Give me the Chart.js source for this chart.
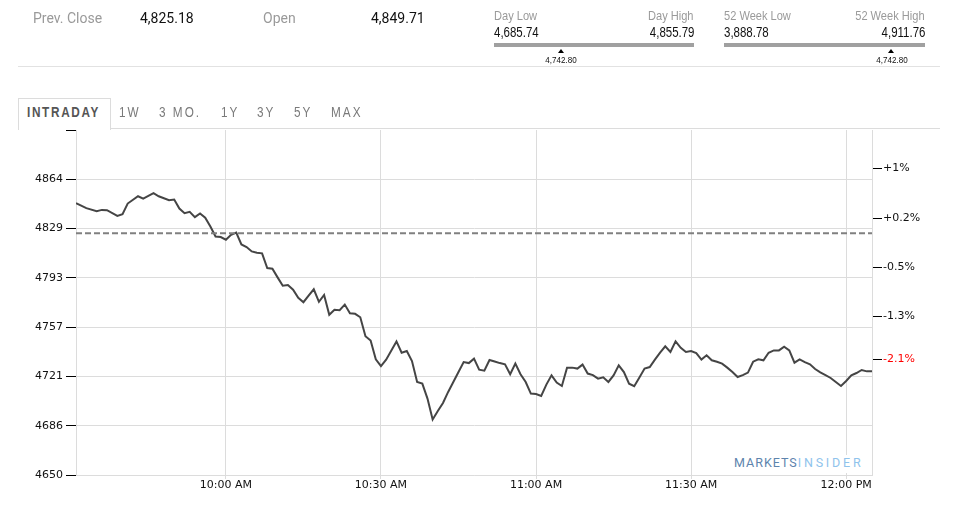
<!DOCTYPE html>
<html>
<head>
<meta charset="utf-8">
<script src="https://cdn.jsdelivr.net/npm/chart.js@4/dist/chart.umd.min.js"></script>
<style>
  html, body { margin:0; padding:0; background:#fff; }
  body { width:961px; height:521px; position:relative; overflow:hidden; }
  #c { position:absolute; left:0; top:0; }
  .t { position:absolute; white-space:nowrap; line-height:1; }
  .rob { font-family: Roboto, "Liberation Sans", sans-serif; font-size:14px; }
  .nar { font-family: "Liberation Sans", Arial, sans-serif; }
  .sl { transform: scaleX(0.82); transform-origin: left center; }
  .sr { transform: scaleX(0.82); transform-origin: right center; }
  .gray { color:#9a9a9a; }
  .blk { color:#111; }
  .bar { position:absolute; height:4px; background:#a0a0a0; }
  .tri { position:absolute; width:0; height:0; border-left:3.5px solid transparent; border-right:3.5px solid transparent; border-bottom:4px solid #000; }
  .tab { position:absolute; top:105px; font-size:14px; letter-spacing:2.4px; color:#7a7a7a; transform: scaleX(0.84); transform-origin: left center; }
</style>
</head>
<body>
<canvas id="c" width="961" height="521"></canvas>

<!-- header -->
<div class="t rob gray" style="left:33px;top:10.5px;">Prev. Close</div>
<div class="t rob blk" id="prevTxt" style="left:140px;top:10.5px;"></div>
<div class="t rob gray" style="left:263px;top:10.5px;">Open</div>
<div class="t rob blk" id="openTxt" style="left:371px;top:10.5px;"></div>

<div id="range1" style="position:absolute;left:494px;top:0;width:200px;height:66px;"></div>
<div id="range2" style="position:absolute;left:724px;top:0;width:201px;height:66px;"></div>

<div style="position:absolute;left:18px;top:66px;width:922px;height:1px;background:#e2e2e2;"></div>

<!-- tabs -->
<div style="position:absolute;left:18px;top:98px;width:91px;height:31px;border:1px solid #dcdcdc;border-bottom:none;background:#fff;"></div>
<div style="position:absolute;left:110px;top:128px;width:830px;height:1px;background:#dcdcdc;"></div>
<div class="t nar tab" style="left:27px;color:#555;font-weight:bold;letter-spacing:2px;">INTRADAY</div>
<div class="t nar tab" style="left:119px;">1W</div>
<div class="t nar tab" style="left:159px;">3 MO.</div>
<div class="t nar tab" style="left:221px;">1Y</div>
<div class="t nar tab" style="left:257px;">3Y</div>
<div class="t nar tab" style="left:294px;">5Y</div>
<div class="t nar tab" style="left:331px;">MAX</div>

<!-- logo -->
<div style="position:absolute;left:730px;top:455px;width:138px;height:18px;background:#fff;"></div>
<div class="t" style="left:734px;top:457px;font-family:Roboto,sans-serif;font-size:12.5px;">
  <span style="color:#5d84ad;letter-spacing:1px;">MARKETS</span><span style="color:#8fc3ec;letter-spacing:2.8px;">INSIDER</span>
</div>

<script>
// ---- data ----
const prevClose = 4825.18;
const openPrice = 4849.71;
const dayLow = 4685.74;
const dayHigh = 4855.79;
const weekLow52 = 3888.78;
const weekHigh52 = 4911.76;
const lastPrice = 4742.80;

const times = ["9:31","9:33","9:35","9:36","9:37","9:39","9:40","9:41","9:43","9:44","9:46","9:47","9:49","9:50","9:51","9:52","9:53","9:54","9:55","9:56","9:57","9:58","9:59",
"10:00","10:01","10:02","10:03","10:04","10:05","10:06","10:07","10:08","10:09","10:10","10:11","10:12","10:13","10:14","10:15","10:16","10:17","10:18","10:19","10:20","10:21","10:22","10:23","10:24","10:25","10:26","10:27","10:28","10:29",
"10:30","10:31","10:33","10:34","10:35","10:36","10:37","10:38","10:39","10:40","10:41","10:42","10:43","10:44","10:45","10:46","10:47","10:48","10:49","10:50","10:51","10:52","10:53","10:54","10:55","10:56","10:57","10:58","10:59",
"11:00","11:01","11:02","11:03","11:04","11:05","11:06","11:07","11:08","11:09","11:10","11:11","11:12","11:13","11:14","11:15","11:16","11:17","11:18","11:19","11:20","11:21","11:22","11:23","11:24","11:25","11:26","11:27","11:28","11:29",
"11:30","11:31","11:32","11:33","11:34","11:35","11:36","11:37","11:38","11:39","11:40","11:41","11:42","11:43","11:44","11:45","11:46","11:47","11:48","11:49","11:50","11:51","11:52","11:53","11:54","11:55","11:56","11:57","11:58","11:59",
"12:00","12:01","12:02","12:03","12:04","12:05"];

const prices = [4847.0,4843.4,4841.2,4842.1,4841.9,4837.8,4839.0,4846.7,4852.0,4850.3,4854.2,4852.0,4849.1,4849.6,4843.1,4839.7,4840.7,4836.9,4839.5,4836.4,4830.1,4822.8,4822.4,
4820.5,4824.1,4825.7,4817.1,4815.2,4812.0,4811.1,4810.6,4800.0,4799.5,4793.2,4787.2,4787.7,4784.3,4778.4,4775.2,4780.0,4784.6,4775.5,4780.5,4766.1,4769.7,4769.4,4773.5,4767.2,4766.8,4764.3,4750.6,4747.5,4733.8,
4728.9,4733.6,4746.8,4738.6,4739.8,4732.6,4717.4,4716.2,4705.4,4690.2,4696.4,4702.2,4710.2,4717.4,4724.6,4731.8,4731.1,4734.3,4726.3,4725.6,4733.3,4732.3,4731.1,4730.2,4723.0,4730.7,4723.0,4717.4,4709.0,
4708.7,4707.3,4715.5,4722.2,4717.0,4714.5,4727.8,4727.8,4727.1,4730.0,4723.5,4722.4,4719.8,4720.8,4717.4,4722.2,4729.5,4724.6,4716.2,4714.3,4720.6,4727.1,4728.2,4733.6,4738.6,4743.2,4739.1,4746.8,4742.2,4739.1,
4739.8,4738.3,4733.6,4736.7,4733.1,4732.1,4730.7,4727.8,4724.6,4721.0,4722.4,4724.2,4732.1,4733.8,4733.1,4738.6,4740.3,4740.3,4743.0,4740.3,4731.4,4733.8,4731.8,4730.2,4726.8,4724.4,4722.4,4720.3,4717.4,4714.5,
4718.1,4722.2,4723.9,4726.1,4725.1,4725.1];

const xTickTimes = ["10:00","10:30","11:00","11:30","12:00"];
const xTickLabels = ["10:00 AM","10:30 AM","11:00 AM","11:30 AM","12:00 PM"];
const axisStart = "9:31";
const axisEnd = "12:05";

const yTickValues = [4650, 4685.7, 4721.4, 4757.1, 4792.9, 4828.6, 4864.3, 4900];
const yTickLabels = ["4650","4686","4721","4757","4793","4829","4864",""];

const pctTickValues = [0.975, 0.224, -0.512, -1.243, -1.894];
const pctTickLabels = ["+1%","+0.2%","-0.5%","-1.3%","-2.1%"];

// ---- header ----
const fmt = v => v.toLocaleString('en-US',{minimumFractionDigits:2, maximumFractionDigits:2});
document.getElementById('prevTxt').textContent = fmt(prevClose);
document.getElementById('openTxt').textContent = fmt(openPrice);

function buildRange(el, lowLabel, highLabel, lo, hi, cur){
  const w = el.offsetWidth;
  const pos = (cur - lo) / (hi - lo) * w;
  el.innerHTML =
    '<div class="t nar gray sl" style="left:0;top:8.5px;font-size:13.5px;">'+lowLabel+'</div>'+
    '<div class="t nar gray sr" style="right:0;top:8.5px;font-size:13.5px;">'+highLabel+'</div>'+
    '<div class="t nar blk sl" style="left:0;top:25px;font-size:14px;">'+fmt(lo)+'</div>'+
    '<div class="t nar blk sr" style="right:0;top:25px;font-size:14px;">'+fmt(hi)+'</div>'+
    '<div class="bar" style="left:0;top:42.5px;width:'+w+'px;"></div>'+
    '<div class="tri" style="left:'+(pos-3.5)+'px;top:48.5px;"></div>'+
    '<div class="t nar blk" style="left:'+pos+'px;top:55px;font-size:9.5px;transform:translateX(-50%) scaleX(0.85);">'+fmt(cur)+'</div>';
}
buildRange(document.getElementById('range1'), 'Day Low', 'Day High', dayLow, dayHigh, lastPrice);
buildRange(document.getElementById('range2'), '52 Week Low', '52 Week High', weekLow52, weekHigh52, lastPrice);

// ---- chart ----
const toMin = s => { const [h,m] = s.split(':').map(Number); return h*60+m; };
const pricePts = times.map((t,i) => ({x: toMin(t), y: prices[i]}));
const prevPts = [{x: toMin(axisStart), y: prevClose}, {x: toMin(axisEnd), y: prevClose}];

const tickFont = {family: '"DejaVu Sans", Verdana, sans-serif', size: 11};
const GRID = '#dcdcdc';

new Chart(document.getElementById('c'), {
  type: 'line',
  data: {
    datasets: [
      {data: prevPts, borderColor: '#808080', borderWidth: 2, borderDash: [6,3], pointRadius: 0, yAxisID: 'y'},
      {data: pricePts, borderColor: '#454545', borderWidth: 2, pointRadius: 0, tension: 0, yAxisID: 'y'}
    ]
  },
  options: {
    responsive: false, animation: false,
    layout: {padding: {top: 130, left: 0, right: 0, bottom: 0}},
    plugins: {legend: {display: false}, tooltip: {enabled: false}},
    scales: {
      x: {
        type: 'linear', min: toMin(axisStart), max: toMin(axisEnd),
        afterBuildTicks: s => { s.ticks = xTickTimes.map(t => ({value: toMin(t)})); },
        afterFit: s => { s.height = 46; },
        ticks: {callback: (v, i) => xTickLabels[i], font: tickFont, color: '#111', padding: 0, maxRotation: 0, autoSkip: false},
        grid: {color: GRID, tickColor: GRID, tickLength: 4},
        border: {color: GRID}
      },
      y: {
        position: 'left', min: 4650, max: 4900,
        afterBuildTicks: s => { s.ticks = yTickValues.map(v => ({value: v})); },
        afterFit: s => { s.width = 76; },
        ticks: {callback: (v, i) => yTickLabels[i], font: tickFont, color: '#111', padding: 3, autoSkip: false},
        grid: {color: c => (c.tick && c.tick.value === 4900) ? 'rgba(0,0,0,0)' : GRID, tickColor: '#000', tickLength: 10},
        border: {color: GRID}
      },
      y2: {
        position: 'right', min: 4650, max: 4900,
        afterBuildTicks: s => { s.ticks = pctTickValues.map(p => ({value: prevClose * (1 + p/100)})); },
        afterFit: s => { s.width = 89; },
        ticks: {callback: (v, i) => pctTickLabels[i], font: tickFont, color: c => c.index === 4 ? '#ff0000' : '#111', padding: 1, autoSkip: false},
        grid: {drawOnChartArea: false, tickColor: '#000', tickLength: 10},
        border: {color: GRID}
      }
    }
  }
});
</script>
</body>
</html>
